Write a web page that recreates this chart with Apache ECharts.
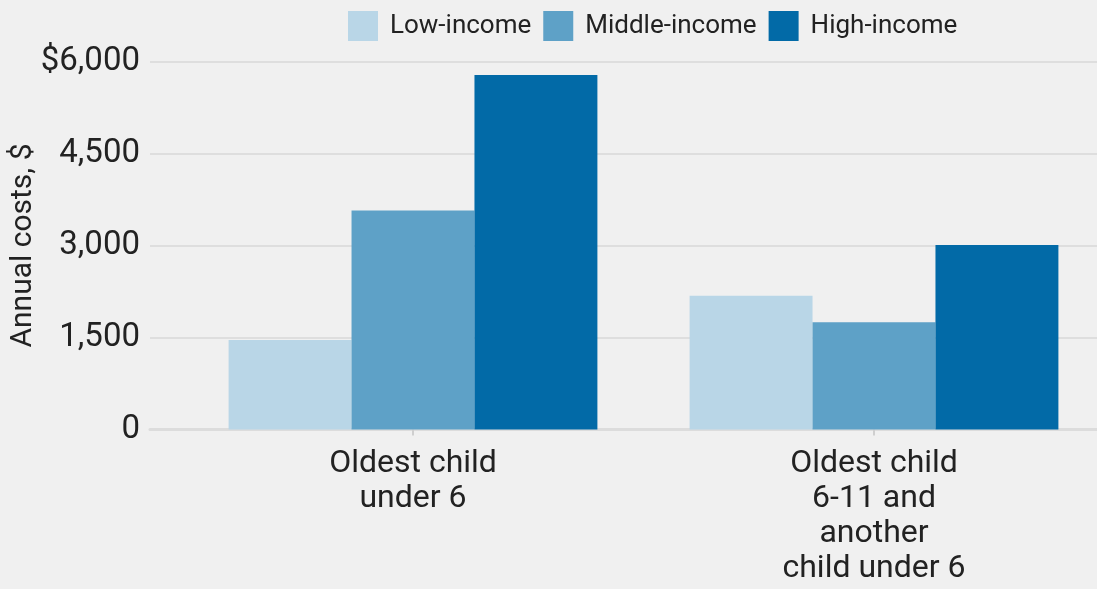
<!DOCTYPE html>
<html><head><meta charset="utf-8">
<script src="https://cdn.jsdelivr.net/npm/echarts@6/dist/echarts.min.js"></script>
<style>html,body{margin:0;padding:0;background:#f0f0f0;}#c{width:1097px;height:589px;}</style>
</head><body><div id="c"></div>
<script>
const categories = ['Oldest child\nunder 6', 'Oldest child\n6-11 and\nanother\nchild under 6'];
const seriesNames = ['Low-income', 'Middle-income', 'High-income'];
const lowIncome = [1460, 2180];
const middleIncome = [3570, 1750];
const highIncome = [5780, 3010];
const colors = ['#b9d6e7', '#5ea1c7', '#026aa7'];
const yMin = 0, yMax = 6000, yStep = 1500;

const font = 'Roboto';
const chart = echarts.init(document.getElementById('c'));
const values = [lowIncome, middleIncome, highIncome];
chart.setOption({
  backgroundColor: '#f0f0f0',
  animation: false,
  textStyle: {fontFamily: font},
  legend: {
    top: 11, left: 348, padding: 0,
    icon: 'rect',
    itemWidth: 30, itemHeight: 30, itemGap: 12,
    textStyle: {fontSize: 26, color: '#222', fontFamily: font, padding: [0, 0, 0, 7]},
    data: seriesNames
  },
  grid: [
    {left: 150, right: 0, top: 61.5, bottom: 159.5, outerBoundsMode: 'none'},
    {left: 182.5, width: 922, top: 61.5, bottom: 159.5, outerBoundsMode: 'none', containLabel: false}
  ],
  xAxis: [
    {gridIndex: 0, type: 'value', min: 0, max: 1, show: true,
     axisLine: {show: true, onZero: false, lineStyle: {color: '#dcdcdc', width: 3}},
     axisTick: {show: false}, axisLabel: {show: false}, splitLine: {show: false}},
    {gridIndex: 1, type: 'category', data: categories,
     axisLine: {show: false},
     axisTick: {show: true, alignWithLabel: true, length: 6, lineStyle: {color: '#cfcfcf', width: 2}},
     axisLabel: {fontSize: 32, color: '#222', lineHeight: 35, margin: 17, fontFamily: font}}
  ],
  yAxis: [
    {gridIndex: 0, type: 'value', min: yMin, max: yMax, interval: yStep,
     name: 'Annual costs, $', nameLocation: 'middle', nameGap: 112, nameMoveOverlap: false,
     nameTextStyle: {fontSize: 30, color: '#222', fontFamily: font},
     axisLine: {show: false}, axisTick: {show: false},
     axisLabel: {fontSize: 33, color: '#222', margin: 10, fontFamily: font,
       formatter: v => (v === yMax ? '$' : '') + v.toLocaleString('en-US')},
     splitLine: {lineStyle: {color: '#dedede', width: 2}}},
    {gridIndex: 1, type: 'value', min: yMin, max: yMax, interval: yStep, show: false, splitLine: {show: false}}
  ],
  series: seriesNames.map((n, i) => ({
    name: n, type: 'bar', xAxisIndex: 1, yAxisIndex: 1,
    data: values[i], barGap: '0%', barCategoryGap: '20%',
    itemStyle: {color: colors[i]}
  }))
});
</script></body></html>
